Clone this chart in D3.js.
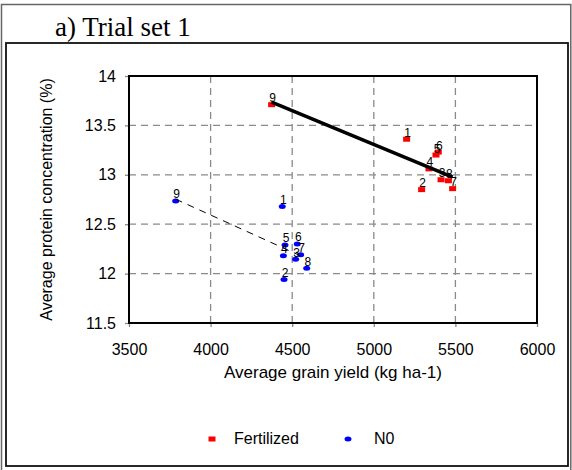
<!DOCTYPE html>
<html><head><meta charset="utf-8">
<script src="https://cdn.jsdelivr.net/npm/d3@7"></script>
<style>body{margin:0;background:#fff}svg{display:block}</style>
</head><body>
<script>
const title = "a) Trial set 1";
const pointLabels = ["1","2","3","4","5","6","7","8","9"];
const fertX = [5201,5293,5412,5338,5381,5395,5483,5457,4374];
const fertY = [13.36,12.85,12.95,13.06,13.20,13.23,12.86,12.94,13.71];
const n0X = [4439,4450,4521,4446,4456,4531,4552,4589,3786];
const n0Y = [12.68,11.94,12.145,12.18,12.29,12.30,12.19,12.054,12.735];
const xTicks = [3500,4000,4500,5000,5500,6000];
const yTicks = [11.5,12,12.5,13,13.5,14];
const seriesNames = ["Fertilized","N0"];

const W=572,H=470;
const svg=d3.select("body").append("svg").attr("width",W).attr("height",H);
const sans="Liberation Sans, Arial, sans-serif";

// outer frames
svg.append("path").attr("d","M1.5,470 V4.5 H570.8 V470").attr("fill","none").attr("stroke","#666").attr("stroke-width",1.5);
svg.append("rect").attr("x",6).attr("y",43).attr("width",562).attr("height",423).attr("fill","none").attr("stroke","#111").attr("stroke-width",1.8);

svg.append("text").attr("x",55).attr("y",36).attr("font-family","Liberation Serif, Times New Roman, serif").attr("font-size",27).attr("fill","#000").text(title);

const L=129,R=537,T=76,B=323;
const x=d3.scaleLinear().domain([3500,6000]).range([L,R]);
const y=d3.scaleLinear().domain([11.5,14]).range([B,T]);

// gridlines
const g=svg.append("g");
g.selectAll(".vg").data(xTicks.slice(1,-1)).join("line").attr("x1",d=>x(d)).attr("x2",d=>x(d)).attr("y1",T).attr("y2",B)
 .attr("stroke","#8a8a8a").attr("stroke-width",1.3).attr("stroke-dasharray","7,5");
g.selectAll(".hg").data(yTicks.slice(1,-1)).join("line").attr("y1",d=>y(d)).attr("y2",d=>y(d)).attr("x1",L).attr("x2",R)
 .attr("stroke","#8a8a8a").attr("stroke-width",1.3).attr("stroke-dasharray","7,5");

// axes
const xAxis=svg.append("g").attr("transform",`translate(0,${B})`).call(d3.axisBottom(x).tickValues(xTicks).tickSize(4).tickPadding(16).tickFormat(d3.format("d")));
const yAxis=svg.append("g").attr("transform",`translate(${L},0)`).call(d3.axisLeft(y).tickValues(yTicks).tickSize(4).tickPadding(9).tickFormat(d=>String(d)));
[xAxis,yAxis].forEach(a=>{a.select(".domain").remove();a.selectAll(".tick line").attr("stroke","#888").attr("stroke-width",1.3);
 a.selectAll("text").attr("font-family",sans).attr("font-size",16).attr("fill","#000");});
xAxis.selectAll("text").attr("dy","0").attr("y",32);

// plot frame
svg.append("rect").attr("x",L).attr("y",T).attr("width",R-L).attr("height",B-T).attr("fill","none").attr("stroke","#000").attr("stroke-width",2);

// axis labels
svg.append("text").attr("x",(L+R)/2).attr("y",378).attr("text-anchor","middle").attr("font-family",sans).attr("font-size",17).text("Average grain yield (kg ha-1)");
svg.append("text").attr("transform",`translate(52,${(T+B)/2}) rotate(-90)`).attr("text-anchor","middle").attr("font-family",sans).attr("font-size",16).text("Average protein concentration (%)");

function fit(xs,ys){const n=xs.length,mx=d3.mean(xs),my=d3.mean(ys);
 let sxy=0,sxx=0;for(let i=0;i<n;i++){sxy+=(xs[i]-mx)*(ys[i]-my);sxx+=(xs[i]-mx)**2;}
 const b=sxy/sxx,a=my-b*mx;const x0=d3.min(xs),x1=d3.max(xs);return [[x0,a+b*x0],[x1,a+b*x1]];}

const fert=fertX.map((v,i)=>({x:v,y:fertY[i],l:pointLabels[i]}));
const n0=n0X.map((v,i)=>({x:v,y:n0Y[i],l:pointLabels[i]}));

svg.selectAll(".fp").data(fert).join("rect").attr("x",d=>x(d.x)-3.5).attr("y",d=>y(d.y)-2.5).attr("width",7).attr("height",5).attr("fill","#ff0000");
svg.selectAll(".np").data(n0).join("ellipse").attr("cx",d=>x(d.x)).attr("cy",d=>y(d.y)).attr("rx",3.5).attr("ry",2.5).attr("fill","#0000ff");

const line=d3.line().x(d=>x(d[0])).y(d=>y(d[1]));
svg.append("path").attr("d",line(fit(fertX,fertY))).attr("stroke","#000").attr("stroke-width",3.5).attr("fill","none");
svg.append("path").attr("d",line(fit(n0X,n0Y))).attr("stroke","#000").attr("stroke-width",1).attr("stroke-dasharray","7,6").attr("fill","none");

svg.selectAll(".fl").data(fert).join("text").attr("x",d=>x(d.x)+1).attr("y",d=>y(d.y)-2.5).attr("text-anchor","middle").attr("font-family",sans).attr("font-size",12).text(d=>d.l);
svg.selectAll(".nl").data(n0).join("text").attr("x",d=>x(d.x)+1).attr("y",d=>y(d.y)-2.5).attr("text-anchor","middle").attr("font-family",sans).attr("font-size",12).text(d=>d.l);

// legend
const lg=svg.append("g");
lg.append("rect").attr("x",208.5).attr("y",436.5).attr("width",7).attr("height",5).attr("fill","#ff0000");
lg.append("text").attr("x",234).attr("y",444).attr("font-family",sans).attr("font-size",16).text(seriesNames[0]);
lg.append("ellipse").attr("cx",348).attr("cy",439).attr("rx",3.5).attr("ry",2.5).attr("fill","#0000ff");
lg.append("text").attr("x",374).attr("y",444).attr("font-family",sans).attr("font-size",16).text(seriesNames[1]);
</script>
</body></html>
